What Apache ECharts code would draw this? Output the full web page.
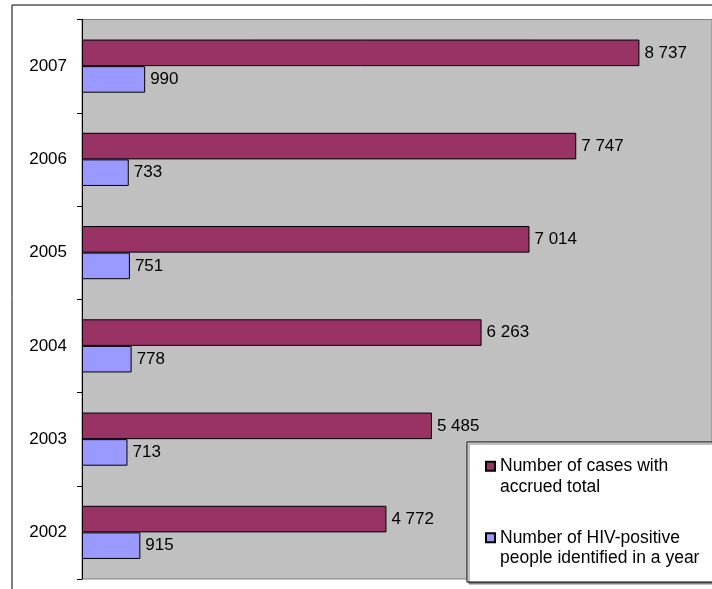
<!DOCTYPE html>
<html>
<head>
<meta charset="utf-8">
<script src="https://cdn.jsdelivr.net/npm/echarts@6/dist/echarts.min.js"></script>
<style>
  html, body { margin: 0; padding: 0; background: #ffffff; }
  #chart { width: 712px; height: 589px; }
</style>
</head>
<body>
<div id="chart"></div>
<script>
// Years on the category axis (bottom to top)
const years = ['2002', '2003', '2004', '2005', '2006', '2007'];

// Cumulative number of registered cases
const accruedTotal = [4772, 5485, 6263, 7014, 7747, 8737];

// New HIV-positive people identified each year
const identifiedInYear = [915, 713, 778, 751, 733, 990];

// Legend texts, one entry per line
const accruedName = ['Number of cases with', 'accrued total'];
const identifiedName = ['Number of HIV-positive', 'people identified in a year'];

const FONT = 'Arial, "Liberation Sans", sans-serif';

// "8737" -> "8 737"
function spaced(v) {
  return String(v).replace(/\B(?=(\d{3})+(?!\d))/g, ' ');
}

// Legend text: an empty leading line keeps the swatch level with the first text line
function legendText(name) {
  const lines = name === accruedName.join(' ') ? accruedName : identifiedName;
  return '\n' + lines.join('\n');
}

const valueLabel = {
  show: true,
  position: 'right',
  distance: 5,
  color: '#000',
  fontFamily: FONT,
  fontSize: 17,
  formatter: p => spaced(p.value)
};

const chart = echarts.init(document.getElementById('chart'), null, { renderer: 'canvas' });

chart.setOption({
  animation: false,
  backgroundColor: '#ffffff',
  grid: {
    left: 82,
    top: 19.5,
    right: 0,
    bottom: 10,
    show: true,
    backgroundColor: '#c0c0c0',
    borderColor: '#808080',
    borderWidth: 1
  },
  // the plot runs past the right edge of the page; 9875 is where the page edge falls
  xAxis: {
    type: 'value',
    min: 0,
    max: 9875,
    show: false
  },
  yAxis: {
    type: 'category',
    data: years,
    axisLine: { show: true, lineStyle: { color: '#000', width: 1 } },
    axisTick: { show: true, length: 5, lineStyle: { color: '#000' } },
    axisLabel: { color: '#000', fontFamily: FONT, fontSize: 17, margin: 15 },
    splitLine: { show: false }
  },
  legend: {
    orient: 'vertical',
    left: 485,
    top: 435.5,
    padding: 0,
    itemGap: 10,
    itemWidth: 9,
    itemHeight: 9,
    icon: 'rect',
    z: 20,
    selectedMode: false,
    formatter: legendText,
    textStyle: {
      color: '#000',
      fontFamily: FONT,
      fontSize: 17.5,
      lineHeight: 20.5
    }
  },
  graphic: [
    {
      // outer chart frame
      type: 'rect',
      z: 0,
      silent: true,
      shape: { x: 12, y: 5, width: 800, height: 700 },
      style: { fill: 'none', stroke: '#000', lineWidth: 1 }
    },
    {
      // legend box
      type: 'rect',
      z: 10,
      silent: true,
      shape: { x: 467, y: 442, width: 300, height: 140 },
      style: {
        fill: '#ffffff', stroke: '#000', lineWidth: 1,
        shadowColor: '#808080', shadowOffsetX: 2, shadowOffsetY: 2, shadowBlur: 0
      }
    }
  ],
  series: [
    {
      name: accruedName.join(' '),
      type: 'bar',
      data: accruedTotal,
      barGap: '0%',
      barCategoryGap: '43%',
      itemStyle: { color: '#993366', borderColor: '#000', borderWidth: 1 },
      label: valueLabel
    },
    {
      name: identifiedName.join(' '),
      type: 'bar',
      data: identifiedInYear,
      barGap: '0%',
      barCategoryGap: '43%',
      itemStyle: { color: '#9999ff', borderColor: '#000', borderWidth: 1 },
      label: valueLabel
    }
  ]
});
</script>
</body>
</html>
